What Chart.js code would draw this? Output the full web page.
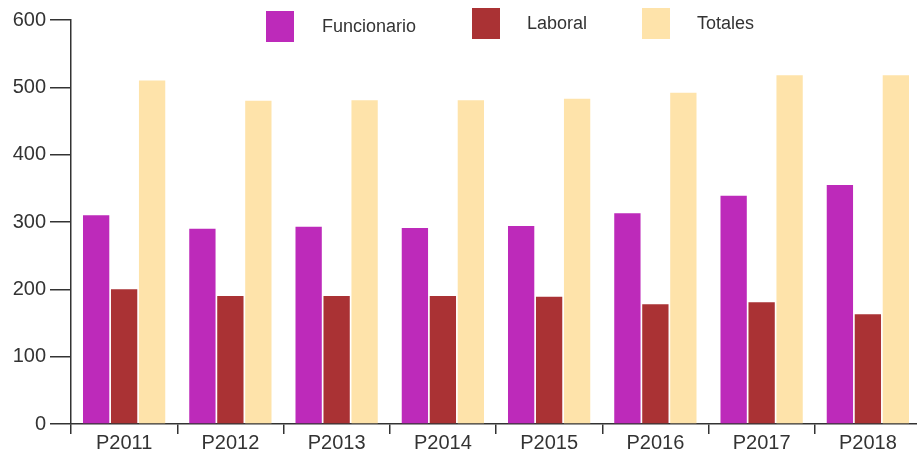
<!DOCTYPE html>
<html><head><meta charset="utf-8">
<script src="https://cdn.jsdelivr.net/npm/chart.js@4"></script>
<style>
html,body{margin:0;padding:0;background:#fff;overflow:hidden;}
#wrap{width:921px;height:452px;position:relative;}
</style></head>
<body><div id="wrap"><canvas id="c" width="921" height="452"></canvas></div>
<script>
const categories = ['P2011','P2012','P2013','P2014','P2015','P2016','P2017','P2018'];
const funcionario = [310, 290, 293, 291, 294, 313, 339, 355];
const laboral = [200, 190, 190, 190, 189, 178, 181, 163];
const totales = [510, 480, 481, 481, 483, 492, 518, 518];
const seriesNames = ['Funcionario','Laboral','Totales'];
const seriesColors = ['#BD2ABA','#AA3234','#FEE3AA'];
const yTicks = [0,100,200,300,400,500,600];

const FONT = '"Liberation Sans", Arial, sans-serif';
const TXT = '#333';
const AX = '#333';

const legendPlugin = {
  id: 'customLegend',
  afterDraw(chart) {
    const ctx = chart.ctx;
    const pos = [{bx:266,by:11,tx:322},{bx:472,by:8,tx:527},{bx:642,by:8,tx:697}];
    ctx.save();
    chart.data.datasets.forEach((ds, i) => {
      const p = pos[i];
      ctx.fillStyle = ds.backgroundColor;
      ctx.fillRect(p.bx, p.by, 28, 31);
      ctx.fillStyle = TXT;
      ctx.font = '18px ' + FONT;
      ctx.textBaseline = 'middle';
      ctx.textAlign = 'left';
      ctx.fillText(ds.label, p.tx, p.by + 16);
    });
    ctx.restore();
  }
};

new Chart(document.getElementById('c'), {
  type: 'bar',
  data: {
    labels: categories,
    datasets: [
      {label: seriesNames[0], data: funcionario, backgroundColor: seriesColors[0]},
      {label: seriesNames[1], data: laboral, backgroundColor: seriesColors[1]},
      {label: seriesNames[2], data: totales, backgroundColor: seriesColors[2]}
    ]
  },
  options: {
    responsive: false,
    animation: false,
    layout: {padding: {top: 20, right: 0, left: 0, bottom: 0}},
    plugins: {legend: {display: false}, tooltip: {enabled: false}},
    datasets: {bar: {categoryPercentage: 0.79, barPercentage: 0.94}},
    scales: {
      x: {
        grid: {display: true, drawOnChartArea: false, drawTicks: true, tickLength: 10, color: AX, lineWidth: 1.5, offset: true},
        border: {display: true, color: AX, width: 1.5},
        ticks: {color: TXT, font: {family: FONT, size: 20}, padding: -3, maxRotation: 0},
        afterFit(scale) { scale.height = 28; }
      },
      y: {
        min: 0, max: 600,
        afterBuildTicks(scale) { scale.ticks = yTicks.map(v => ({value: v})); },
        grid: {display: true, drawOnChartArea: false, drawTicks: true, tickLength: 21, color: AX, lineWidth: 1.5},
        border: {display: true, color: AX, width: 1.5},
        ticks: {color: TXT, font: {family: FONT, size: 20}, padding: 4},
        afterFit(scale) { scale.width = 71; }
      }
    }
  },
  plugins: [legendPlugin]
});
</script>
</body></html>
